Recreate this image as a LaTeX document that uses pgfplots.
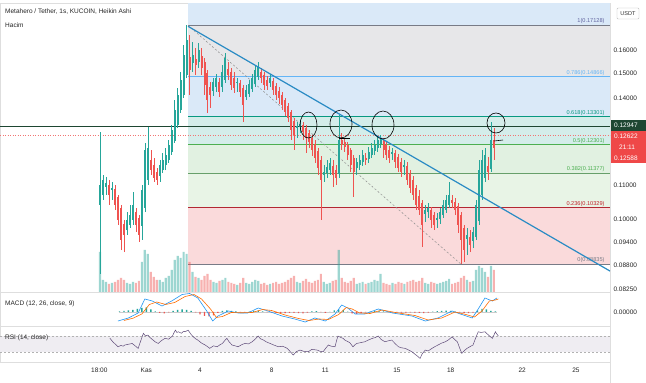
\documentclass[border=0pt]{standalone}
\usepackage{fontspec}
\setmainfont{Liberation Sans}
\usepackage{pgfplots}
\usepackage{pgfplotstable}
\pgfplotsset{compat=1.18}

\definecolor{up}{HTML}{26A69A}
\definecolor{dn}{HTML}{EF5350}
\definecolor{fibgray}{HTML}{E7E7E9}
\definecolor{fibblue}{HTML}{DAE9F8}
\definecolor{fibteal}{HTML}{D4EDEA}
\definecolor{fibgreen}{HTML}{E1F1E1}
\definecolor{fibgreenb}{HTML}{E8F4E6}
\definecolor{fibred}{HTML}{FADADB}
\definecolor{lone}{HTML}{787B86}
\definecolor{lsev}{HTML}{64B5F6}
\definecolor{lsix}{HTML}{089981}
\definecolor{lfive}{HTML}{4CAF50}
\definecolor{lthree}{HTML}{81C784}
\definecolor{ltwo}{HTML}{B22833}
\definecolor{trend}{HTML}{2A8BC4}
\definecolor{darkg}{HTML}{1E4632}
\definecolor{redbox}{HTML}{EF4848}
\definecolor{macdb}{HTML}{2196F3}
\definecolor{macdo}{HTML}{FF6D00}
\definecolor{rsil}{HTML}{5E4A78}

\newcommand\ft{\fontsize{6.5}{7.5}\selectfont}
\newcommand\fsm{\fontsize{5.6}{6.5}\selectfont}

% h = hours from 1 Nov 00:00 ; o hi lo c = Heikin Ashi prices ; v = volume (relative)
\pgfplotstableread{
h o hi lo c v
-62 0.1042 0.1275 0.0860 0.1101 40
-58 0.1071 0.1132 0.1056 0.1116 12
-54 0.1095 0.1126 0.1071 0.1107 10
-50 0.1101 0.1116 0.1042 0.1071 8
-46 0.1086 0.1110 0.1056 0.1092 9
-42 0.1089 0.1101 0.1027 0.1042 10
-38 0.1065 0.1071 0.0986 0.0999 12
-34 0.1033 0.1042 0.0919 0.0945 14
-30 0.0988 0.0999 0.0914 0.0959 12
-26 0.0972 0.1021 0.0959 0.0999 9
-22 0.0986 0.1042 0.0977 0.1013 8
-18 0.0999 0.1080 0.0986 0.1042 10
-14 0.1021 0.1033 0.0967 0.0986 9
-10 0.1005 0.1013 0.0940 0.0959 11
-6 0.0983 0.1101 0.0945 0.1086 30
-2 0.1033 0.1237 0.1021 0.1213 42
2 0.1116 0.1293 0.1101 0.1220 38
6 0.1180 0.1213 0.1132 0.1147 20
10 0.1164 0.1187 0.1110 0.1122 15
14 0.1141 0.1154 0.1101 0.1116 12
18 0.1129 0.1180 0.1110 0.1164 12
22 0.1147 0.1203 0.1138 0.1180 10
26 0.1164 0.1220 0.1147 0.1197 14
30 0.1180 0.1247 0.1170 0.1230 16
34 0.1207 0.1300 0.1197 0.1282 22
38 0.1244 0.1393 0.1237 0.1355 32
42 0.1300 0.1440 0.1289 0.1413 36
46 0.1355 0.1506 0.1344 0.1472 34
50 0.1413 0.1622 0.1401 0.1578 40
54 0.1493 0.17128 0.1480 0.1645 38
58 0.1569 0.1668 0.1413 0.1514 30
62 0.1543 0.1636 0.1506 0.1578 20
66 0.1560 0.1609 0.1493 0.1535 15
70 0.1548 0.1631 0.1522 0.1600 14
74 0.1573 0.1609 0.1493 0.1522 12
78 0.1548 0.1565 0.1413 0.1452 16
82 0.1501 0.1514 0.1344 0.1393 18
86 0.1444 0.1464 0.1363 0.1413 12
90 0.1428 0.1480 0.1409 0.1464 10
94 0.1444 0.1497 0.1424 0.1480 9
98 0.1464 0.1480 0.1405 0.1424 11
102 0.1444 0.1535 0.1424 0.1506 12
106 0.1472 0.1587 0.1460 0.1565 14
110 0.1518 0.1548 0.1472 0.1493 10
114 0.1506 0.1522 0.1432 0.1452 9
118 0.1480 0.1506 0.1420 0.1440 8
122 0.1460 0.1480 0.1424 0.1464 7
126 0.1460 0.1472 0.1405 0.1424 9
130 0.1440 0.1452 0.1311 0.1374 14
134 0.1405 0.1452 0.1393 0.1432 9
138 0.1417 0.1472 0.1405 0.1456 8
142 0.1436 0.1497 0.1424 0.1480 10
146 0.1456 0.1535 0.1444 0.1514 12
150 0.1485 0.1548 0.1472 0.1531 11
154 0.1506 0.1522 0.1460 0.1480 8
158 0.1493 0.1506 0.1432 0.1452 9
162 0.1472 0.1489 0.1432 0.1448 7
166 0.1460 0.1497 0.1444 0.1480 8
170 0.1468 0.1480 0.1413 0.1432 9
174 0.1448 0.1460 0.1393 0.1413 10
178 0.1428 0.1444 0.1378 0.1401 8
182 0.1413 0.1424 0.1355 0.1374 9
186 0.1393 0.1401 0.1333 0.1348 10
190 0.1370 0.1382 0.1311 0.1326 12
194 0.1348 0.1355 0.1247 0.1282 14
198 0.1315 0.1326 0.1213 0.1265 16
202 0.1289 0.1311 0.1254 0.1296 10
206 0.1293 0.1318 0.1272 0.1304 9
210 0.1300 0.1311 0.1247 0.1275 11
214 0.1289 0.1300 0.1203 0.1254 13
218 0.1272 0.1282 0.1220 0.1240 10
222 0.1254 0.1265 0.1193 0.1213 9
226 0.1233 0.1247 0.1170 0.1187 11
230 0.1210 0.1220 0.1132 0.1154 12
234 0.1180 0.1193 0.0999 0.1116 18
238 0.1132 0.1164 0.1110 0.1141 10
242 0.1138 0.1180 0.1122 0.1157 8
246 0.1147 0.1187 0.1132 0.1170 9
250 0.1160 0.1180 0.1095 0.1132 11
254 0.1147 0.1164 0.1101 0.1122 12
258 0.1135 0.1337 0.1122 0.1247 42
262 0.1247 0.1272 0.1213 0.1230 14
266 0.1240 0.1254 0.1207 0.1223 10
270 0.1230 0.1240 0.1180 0.1197 9
274 0.1213 0.1220 0.1141 0.1164 11
278 0.1187 0.1197 0.1065 0.1141 14
282 0.1154 0.1187 0.1132 0.1173 8
286 0.1164 0.1197 0.1147 0.1180 9
290 0.1173 0.1213 0.1160 0.1197 10
294 0.1187 0.1203 0.1164 0.1180 8
298 0.1183 0.1223 0.1170 0.1207 9
302 0.1197 0.1237 0.1187 0.1220 10
306 0.1210 0.1247 0.1197 0.1230 12
310 0.1220 0.1261 0.1207 0.1247 11
314 0.1233 0.1265 0.1220 0.1251 18
318 0.1244 0.1254 0.1187 0.1213 9
322 0.1230 0.1240 0.1180 0.1197 8
326 0.1213 0.1227 0.1170 0.1187 7
330 0.1200 0.1220 0.1180 0.1207 9
334 0.1203 0.1213 0.1154 0.1173 8
338 0.1190 0.1200 0.1141 0.1154 10
342 0.1173 0.1187 0.1126 0.1141 9
346 0.1157 0.1180 0.1132 0.1164 8
350 0.1160 0.1173 0.1101 0.1116 10
354 0.1138 0.1147 0.1077 0.1092 11
358 0.1116 0.1129 0.1056 0.1071 12
362 0.1092 0.1101 0.1027 0.1042 10
366 0.1068 0.1086 0.1013 0.1027 11
370 0.1048 0.1056 0.0927 0.0986 14
374 0.1016 0.1042 0.0994 0.1027 9
378 0.1021 0.1048 0.1005 0.1033 8
382 0.1027 0.1036 0.0977 0.0999 10
386 0.1013 0.1021 0.0972 0.0986 9
390 0.0999 0.1019 0.0977 0.1005 8
394 0.1002 0.1033 0.0988 0.1021 9
398 0.1013 0.1056 0.1005 0.1042 10
402 0.1027 0.1071 0.1019 0.1056 11
406 0.1042 0.1110 0.1033 0.1071 13
410 0.1056 0.1071 0.1033 0.1048 8
414 0.1050 0.1062 0.1013 0.1027 9
418 0.1039 0.1048 0.0964 0.0986 10
422 0.1013 0.1021 0.08835 0.0945 14
426 0.0977 0.0986 0.0890 0.0919 16
430 0.0948 0.0977 0.0907 0.0959 12
434 0.0953 0.0972 0.0914 0.0932 10
438 0.0943 0.0980 0.0924 0.0967 11
442 0.0953 0.1056 0.0945 0.1042 22
446 0.0996 0.1180 0.0986 0.1147 26
450 0.1071 0.1213 0.1056 0.1180 24
454 0.1122 0.1220 0.1110 0.1197 20
458 0.1160 0.1190 0.1116 0.1141 15
462 0.1150 0.1311 0.1141 0.1247 26
466 0.1247 0.1289 0.1180 0.1220 22
}\candles

\pgfplotstableread{
h d
-36 0.0002
-30 0.0004
-24 0.0006
-18 0.0008
-12 0.0012
-6 0.0016
0 0.0018
6 0.0010
12 0.0002
18 -0.0004
24 -0.0006
30 -0.0002
36 0.0004
42 0.0008
48 0.0010
54 0.0008
60 0.0004
66 -0.0002
72 -0.0010
78 -0.0016
84 -0.0018
90 -0.0014
96 -0.0004
102 0.0004
108 0.0006
114 0.0004
120 0.0002
126 -0.0001
132 -0.0002
138 0.0001
144 0.0004
150 0.0005
156 0.0002
162 -0.0001
168 -0.0003
174 -0.0004
180 -0.0005
186 -0.0005
192 -0.0004
198 -0.0004
204 -0.0005
210 -0.0006
216 -0.0003
222 0.0002
228 0.0003
234 -0.0001
240 -0.0004
246 0.0000
252 0.0006
258 0.0010
264 0.0008
270 0.0001
276 -0.0006
282 -0.0008
288 -0.0005
294 -0.0002
300 0.0001
306 0.0003
312 0.0004
318 0.0002
324 -0.0001
330 -0.0002
336 -0.0002
342 -0.0003
348 -0.0003
354 -0.0002
360 -0.0003
366 -0.0004
372 -0.0005
378 -0.0003
384 0.0001
390 0.0003
396 0.0004
402 0.0005
408 0.0004
414 0.0001
420 -0.0002
426 -0.0004
432 -0.0005
438 -0.0003
444 0.0006
450 0.0012
456 0.0010
462 0.0004
468 0.0002
}\hist

\pgfplotstablegetrowsof{\candles}
\pgfmathtruncatemacro{\lastrow}{\pgfplotsretval-1}

\pgfplotsset{pane/.style={scale only axis, anchor=south west,
  xmin=-196.2, xmax=621.7, axis line style={black!13},
  major tick length=0pt, minor tick length=0pt,
  scaled y ticks=false,
  tick label style={font=\ft, text=black!85}}}

\begin{document}
\begin{tikzpicture}[x=1pt,y=1pt]
\useasboundingbox (0,0) rectangle (646,383);
\fill[white] (0,0) rectangle (646,383);

% ---------------- main price pane ----------------
\begin{axis}[pane, at={(0pt,91pt)}, width=610pt, height=289pt,
  ymode=log, ymin=0.08181, ymax=0.1822, xtick=\empty,
  ytick={0.0825,0.088,0.094,0.1,0.11,0.14,0.15,0.16},
  yticklabels={0.08250,0.08800,0.09400,0.10000,0.11000,0.14000,0.15000,0.16000},
  yticklabel pos=right, yticklabel style={anchor=west}]
% fib zones
\addplot[draw=none, fill=fibblue] coordinates {(55.9,0.17128) (621.7,0.17128) (621.7,0.1822) (55.9,0.1822)} -- cycle;
\addplot[draw=none, fill=fibgray] coordinates {(55.9,0.14866) (621.7,0.14866) (621.7,0.17128) (55.9,0.17128)} -- cycle;
\addplot[draw=none, fill=fibblue] coordinates {(55.9,0.13301) (621.7,0.13301) (621.7,0.14866) (55.9,0.14866)} -- cycle;
\addplot[draw=none, fill=fibteal] coordinates {(55.9,0.12301) (621.7,0.12301) (621.7,0.13301) (55.9,0.13301)} -- cycle;
\addplot[draw=none, fill=fibgreen] coordinates {(55.9,0.11377) (621.7,0.11377) (621.7,0.12301) (55.9,0.12301)} -- cycle;
\addplot[draw=none, fill=fibgreenb] coordinates {(55.9,0.10329) (621.7,0.10329) (621.7,0.11377) (55.9,0.11377)} -- cycle;
\addplot[draw=none, fill=fibred] coordinates {(55.9,0.08835) (621.7,0.08835) (621.7,0.10329) (55.9,0.10329)} -- cycle;
% fib lines
\addplot[lone, line width=0.7pt] coordinates {(55.9,0.17128) (621.7,0.17128)};
\addplot[lsev, line width=0.7pt] coordinates {(55.9,0.14866) (621.7,0.14866)};
\addplot[lsix, line width=0.7pt] coordinates {(55.9,0.13301) (621.7,0.13301)};
\addplot[lfive, line width=0.7pt] coordinates {(55.9,0.12301) (621.7,0.12301)};
\addplot[lthree!80!black, line width=0.7pt] coordinates {(55.9,0.11377) (621.7,0.11377)};
\addplot[ltwo, line width=1pt] coordinates {(55.9,0.10329) (621.7,0.10329)};
\addplot[lone, line width=0.7pt] coordinates {(55.9,0.08835) (621.7,0.08835)};
% fib labels
\node[anchor=south east, inner sep=1pt, font=\fsm, text=lone!80!blue] at (axis cs:616,0.17128) {1(0.17128)};
\node[anchor=south east, inner sep=1pt, font=\fsm, text=lsev] at (axis cs:616,0.14866) {0.786(0.14866)};
\node[anchor=south east, inner sep=1pt, font=\fsm, text=lsix] at (axis cs:616,0.13301) {0.618(0.13301)};
\node[anchor=south east, inner sep=1pt, font=\fsm, text=lfive] at (axis cs:616,0.12301) {0.5(0.12301)};
\node[anchor=south east, inner sep=1pt, font=\fsm, text=lfive] at (axis cs:616,0.11377) {0.382(0.11377)};
\node[anchor=south east, inner sep=1pt, font=\fsm, text=ltwo!80!red] at (axis cs:616,0.10329) {0.236(0.10329)};
\node[anchor=south east, inner sep=1pt, font=\fsm, text=lone] at (axis cs:616,0.08835) {0(0.08835)};
% current price dotted line & horizontal level
\addplot[dn!80, dotted, line width=0.5pt] coordinates {(-196.2,0.12622) (621.7,0.12622)};
\addplot[darkg, line width=1.3pt] coordinates {(-196.2,0.12947) (621.7,0.12947)};
% fib anchor diagonal
\addplot[black!45, dash pattern=on 2pt off 2pt, line width=0.5pt] coordinates {(55.9,0.17128) (422,0.08835)};
% Heikin Ashi candles, one wick and one body per row of the table
\pgfplotsforeachungrouped \i in {0,...,\lastrow}{%
  \pgfplotstablegetelem{\i}{h}\of\candles \let\cH\pgfplotsretval
  \pgfplotstablegetelem{\i}{o}\of\candles \let\cO\pgfplotsretval
  \pgfplotstablegetelem{\i}{hi}\of\candles \let\cHi\pgfplotsretval
  \pgfplotstablegetelem{\i}{lo}\of\candles \let\cLo\pgfplotsretval
  \pgfplotstablegetelem{\i}{c}\of\candles \let\cC\pgfplotsretval
  \ifdim\cC pt<\cO pt \def\ccol{dn}\else\def\ccol{up}\fi
  \edef\temp{\noexpand\addplot[\ccol, line width=0.5pt] coordinates {(\cH,\cLo) (\cH,\cHi)};
    \noexpand\addplot[\ccol, line width=2pt] coordinates {(\cH,\cO) (\cH,\cC)};}%
  \temp
}
% trend line
\addplot[trend, line width=1.2pt] coordinates {(55.9,0.1708) (621.7,0.0867)};
\end{axis}

% ---------------- volume overlay ----------------
\begin{axis}[pane, at={(0pt,91pt)}, width=610pt, height=289pt, ymin=0, ymax=289, hide axis]
\addplot[ybar, bar width=2.2pt, bar shift=0pt, fill=up, fill opacity=0.45, draw=none]
  table[x=h, y expr={\thisrow{c}>=\thisrow{o} ? \thisrow{v} : nan}] {\candles};
\addplot[ybar, bar width=2.2pt, bar shift=0pt, fill=dn, fill opacity=0.45, draw=none]
  table[x=h, y expr={\thisrow{c}<\thisrow{o} ? \thisrow{v} : nan}] {\candles};
\end{axis}

% ---------------- MACD pane ----------------
\begin{axis}[pane, at={(0pt,57pt)}, width=610pt, height=34pt,
  ymin=-0.0056, ymax=0.008, xtick=\empty, ytick={0}, yticklabels={0.00000},
  yticklabel pos=right, yticklabel style={anchor=west}]
\addplot[black!20, line width=0.3pt] coordinates {(-36,0) (470,0)};
\addplot[ybar, bar width=1.4pt, bar shift=0pt, fill=up, draw=none]
  table[x=h, y expr={\thisrow{d}>=0 ? \thisrow{d} : nan}] {\hist};
\addplot[ybar, bar width=1.4pt, bar shift=0pt, fill=dn, draw=none]
  table[x=h, y expr={\thisrow{d}<0 ? \thisrow{d} : nan}] {\hist};
\addplot[macdb, line width=0.6pt] coordinates {(-38,-0.0036) (-24,-0.0024) (-11,-0.0004) (-2,0.0052) (8,0.0044) (21,0.0024) (34,0.0044) (48,0.0070) (58,0.0074) (69,0.0056) (81,0.0004) (89,-0.0036) (96,-0.0016) (110,0.0004) (123,-0.0004) (136,-0.0004) (150,0.0016) (163,0.0004) (182,-0.0016) (199,-0.0028) (213,-0.0040) (226,-0.0024) (240,-0.0036) (253,-0.0008) (262,0.0028) (270,0.0016) (280,-0.0008) (293,-0.0008) (311,0.0012) (330,-0.0004) (356,-0.0016) (374,-0.0036) (391,-0.0024) (410,0.0004) (421,-0.0008) (437,-0.0024) (445,0.0012) (454,0.0056) (464,0.0044) (470,0.0056)};
\addplot[macdo, line width=0.6pt] coordinates {(-30,-0.0034) (-18,-0.0025) (-6,-0.0008) (4,0.0030) (14,0.0040) (26,0.0030) (38,0.0038) (52,0.0062) (64,0.0070) (74,0.0052) (86,0.0012) (94,-0.0022) (102,-0.0018) (114,-0.0002) (128,-0.0003) (142,-0.0002) (156,0.0010) (168,0.0006) (186,-0.0012) (204,-0.0026) (218,-0.0034) (232,-0.0028) (244,-0.0030) (258,-0.0010) (268,0.0018) (276,0.0012) (286,-0.0004) (300,-0.0006) (316,0.0008) (334,-0.0002) (360,-0.0014) (378,-0.0032) (396,-0.0024) (414,0.0000) (426,-0.0008) (440,-0.0020) (450,0.0004) (460,0.0044) (468,0.0048) (472,0.0052)};
\end{axis}

% ---------------- RSI pane ----------------
\begin{axis}[pane, at={(0pt,21pt)}, width=610pt, height=36pt,
  ymin=3.8, ymax=95.5, ytick=\empty,
  xtick={-63,0,72,168,240,336,408,504,576},
  xticklabels={18:00,Kas,4,8,11,15,18,22,25},
  xticklabel style={yshift=-2.5pt}]
\addplot[draw=none, fill=rsil!10] coordinates {(-196.2,30) (621.7,30) (621.7,70) (-196.2,70)} -- cycle;
\addplot[black!30, dash pattern=on 2pt off 2pt, line width=0.4pt] coordinates {(-196.2,70) (621.7,70)};
\addplot[black!30, dash pattern=on 2pt off 2pt, line width=0.4pt] coordinates {(-196.2,30) (621.7,30)};
\addplot[rsil, line width=0.5pt] coordinates {(-49,64.8) (-47,60) (-45,55.4) (-42,50) (-38,42.6) (-34,46) (-31,44) (-29,47) (-24,49) (-19,51) (-15,45) (-11,38.5) (-8,55) (-4,76.8) (-1,70) (2,72.4) (5,66) (9,59.7) (12,55) (16,51) (20,58) (25,64) (30,62) (35,69.9) (37,78) (39,85) (41,79) (43,80.8) (47,77) (50,82) (52,80.8) (54,83) (56,85) (60,74) (63,68) (66,63) (69,59.7) (74,52) (79,47) (82,43) (85,38.5) (90,45) (95,42.6) (99,48) (102,51) (105,58) (108,64) (111,55) (115,47) (119,45) (123,42.6) (128,48) (132,51) (137,50) (142,55.4) (146,62) (150,69.9) (153,63) (157,59.7) (161,55) (166,51) (171,47) (177,42.6) (183,44) (189,38.5) (193,30) (197,21.5) (201,30) (206,34.2) (211,31) (217,29.9) (222,36) (229,34.2) (233,31) (237,29.9) (241,40) (244,47) (248,44) (253,42.6) (255,58) (257,69.9) (261,66) (264,64) (266,59.7) (270,56) (273,52.8) (277,42.6) (280,48) (282,51) (287,53) (293,55.4) (298,60) (303,64) (307,66) (311,69.9) (315,61) (320,55.4) (325,58) (329,59.7) (334,50) (338,42.6) (342,40) (347,38.5) (351,35) (356,29.9) (360,24) (364,18) (367,13) (370,25) (374,34.2) (378,32) (383,38.5) (387,43) (391,47) (396,52) (401,55.4) (405,60) (410,68) (414,60) (417,55.4) (420,40) (423,25.8) (427,34) (430,38.5) (434,43) (438,47) (441,62) (445,80.8) (449,79) (454,80.8) (459,72) (464,64) (466,72) (468,80.8) (470,75) (472,69.9)};
\end{axis}

% hand drawn circles (picture coordinates)
\draw[black, line width=0.6pt] (308.5,258) ellipse [x radius=8.5, y radius=13];
\draw[black, line width=0.6pt] (341,259) ellipse [x radius=11, y radius=14];
\draw[black, line width=0.6pt] (339,245) -- (350,245);
\draw[black, line width=0.6pt] (383,258) ellipse [x radius=11, y radius=14];
\draw[black, line width=0.6pt] (496,260) ellipse [x radius=9, y radius=10];
\draw[black, line width=0.6pt] (494,242) -- (503,243);

% divider in time-scale row
\draw[black!13] (610,0) -- (610,21);

% legends
\node[anchor=west, font=\ft, text=black!85, inner sep=0] at (5,371) {Metahero / Tether, 1s, KUCOIN, Heikin Ashi};
\node[anchor=west, font=\ft, text=black!85, inner sep=0] at (5,358) {Hacim};
\node[anchor=west, font=\ft, text=black!85, inner sep=0] at (5,79) {MACD (12, 26, close, 9)};
\node[anchor=west, font=\ft, text=black!85, inner sep=0] at (5,45) {RSI (14, close)};

% price scale boxes
\draw[black!25, fill=white, rounded corners=1pt] (617,364) rectangle (639,375);
\node[font=\fsm, text=black!80] at (628,369.5) {USDT};
\fill[darkg] (611,252) rectangle (646,263);
\node[anchor=west, font=\ft, text=white, inner sep=0] at (614,257.5) {0.12947};
\fill[redbox] (611,220) rectangle (646,252);
\node[anchor=west, font=\ft, text=white, inner sep=0] at (614,246.5) {0.12622};
\node[anchor=west, font=\ft, text=white, inner sep=0] at (619,235.5) {21:11};
\node[anchor=west, font=\ft, text=white, inner sep=0] at (614,225) {0.12588};
\end{tikzpicture}
\end{document}
